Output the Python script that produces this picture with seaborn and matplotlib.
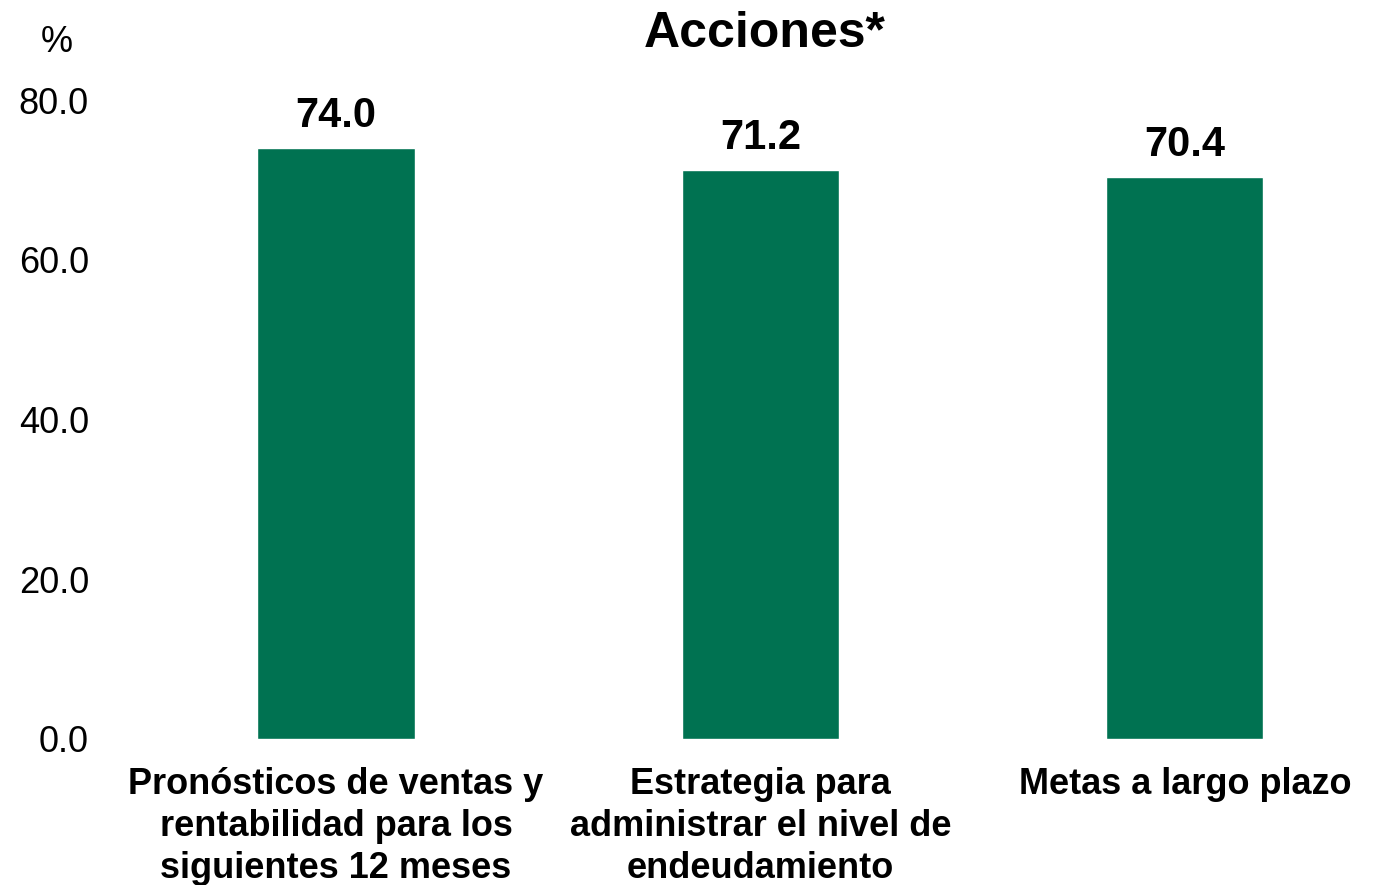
import matplotlib
matplotlib.use('Agg')
import matplotlib.pyplot as plt
import seaborn as sns
import pandas as pd

# Data
categories = ['Pronósticos de ventas y\nrentabilidad para los\nsiguientes 12 meses',
              'Estrategia para\nadministrar el nivel de\nendeudamiento',
              'Metas a largo plazo']
values = [74.0, 71.2, 70.4]
yticks = [0, 20, 40, 60, 80]

df = pd.DataFrame({'Accion': categories, 'Porcentaje': values})

sns.set_style('white')
plt.rcParams['font.family'] = ['Liberation Sans', 'DejaVu Sans']
plt.rcParams['text.color'] = 'black'
plt.rcParams['xtick.color'] = 'black'
plt.rcParams['ytick.color'] = 'black'

fig = plt.figure(figsize=(13.84, 8.85), dpi=100)
W, H = 1384, 885
# axes from x=100 to x=1384 px, y=739 (0) to y=100 (80)
ax = fig.add_axes([100 / W, 1 - 739 / H, (1384 - 100) / W, (739 - 100) / H])

sns.barplot(data=df, x='Accion', y='Porcentaje', color='#007251', width=0.37,
            saturation=1, ax=ax)

ax.set_xlim(-0.556, 2.469)
ax.set_ylim(0, 80)
ax.set_yticks(yticks)
ax.set_yticklabels([f'{v:.1f}' for v in yticks], fontsize=26)
ax.tick_params(axis='y', length=0, pad=8)
ax.tick_params(axis='x', length=0, pad=20)
for lab in ax.get_xticklabels():
    lab.set_fontsize(26)
    lab.set_fontweight('bold')
    lab.set_linespacing(1.27)
    lab.set_verticalalignment('top')
ax.set_xlabel('')
ax.set_ylabel('')
for s in ax.spines.values():
    s.set_visible(False)

for i, v in enumerate(values):
    ax.text(i, v + 1.5, f'{v:.1f}', ha='center', va='bottom', fontsize=30, fontweight='bold')

fig.text(765 / W, 1 - 34 / H, 'Acciones*', ha='center', va='center', fontsize=36, fontweight='bold')
fig.text(57 / W, 1 - 42 / H, '%', ha='center', va='center', fontsize=26)

fig.savefig('out.png', dpi=100)
